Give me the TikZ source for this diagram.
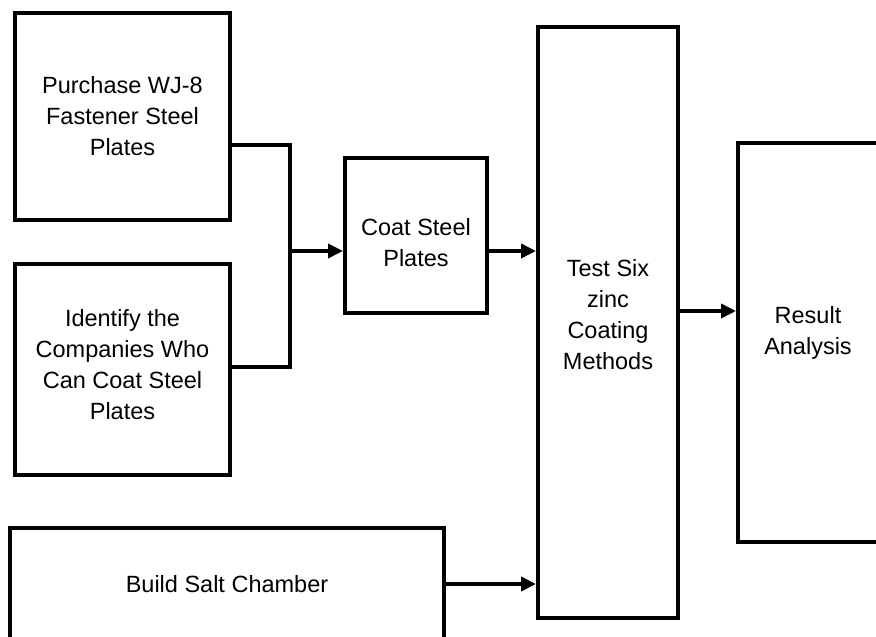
\documentclass[tikz,border=0pt]{standalone}
\usepackage{fontspec}
\setmainfont{Liberation Sans}
\usetikzlibrary{arrows.meta,positioning}

\tikzset{
  stage/.style={draw=black,line width=4pt,align=center,inner sep=0pt,
                font=\fontsize{23.5}{31}\selectfont},
  caption/.style={align=center,inner sep=0pt,font=\fontsize{23.5}{31}\selectfont},
  flow/.style={line width=3.6pt,-{Triangle[length=15pt,width=14pt]}},
  link/.style={line width=3.6pt}
}

\begin{document}
\begin{tikzpicture}[x=1pt,y=-1pt]
  %% page frame
  \clip (0,0) rectangle (876,637);
  \fill[white] (0,0) rectangle (876,637);

  %% left column
  \node[stage,minimum width=215pt,minimum height=207pt] (purchase) at (122.5,116.5)
       {Purchase WJ-8\\Fastener Steel\\Plates};
  \node[stage,minimum width=215pt,minimum height=211pt] (identify) at (122.5,369) {};
  \node[caption] at ([yshift=4pt]identify.center)
       {Identify the\\Companies Who\\Can Coat Steel\\Plates};
  \node[stage,minimum width=434pt,minimum height=112pt] (salt) at (227,584)
       {Build Salt Chamber};

  %% middle and right
  \node[stage,minimum width=142pt,minimum height=155pt] (coat) at (416,235.5) {};
  \node[caption] at ([yshift=-7pt]coat.center) {Coat Steel\\Plates};
  \node[stage,minimum width=140pt,minimum height=591pt] (test) at (608,322.5) {};
  \node[caption] at ([yshift=8pt]test.center) {Test Six\\zinc\\Coating\\Methods};
  \node[stage,minimum width=140pt,minimum height=399pt] (result) at (808,342.5) {};
  \node[caption] at ([yshift=10pt]result.center) {Result\\Analysis};

  %% joining lines
  \coordinate (jtop) at (290,145);
  \coordinate (jbot) at (290,367);
  \coordinate (join) at (290,251);
  \coordinate (res) at (708,311);
  \draw[link] (purchase.east |- jtop) -- (jtop) -- (jbot) -- (identify.east |- jbot);
  \draw[flow] (join) -- (coat.west |- join);
  \draw[flow] (coat.east |- join) -- (test.west |- join);
  \draw[flow] (test.east |- res) -- (result.west |- res);
  \draw[flow] (salt.east) -- (test.west |- salt.east);
\end{tikzpicture}
\end{document}
